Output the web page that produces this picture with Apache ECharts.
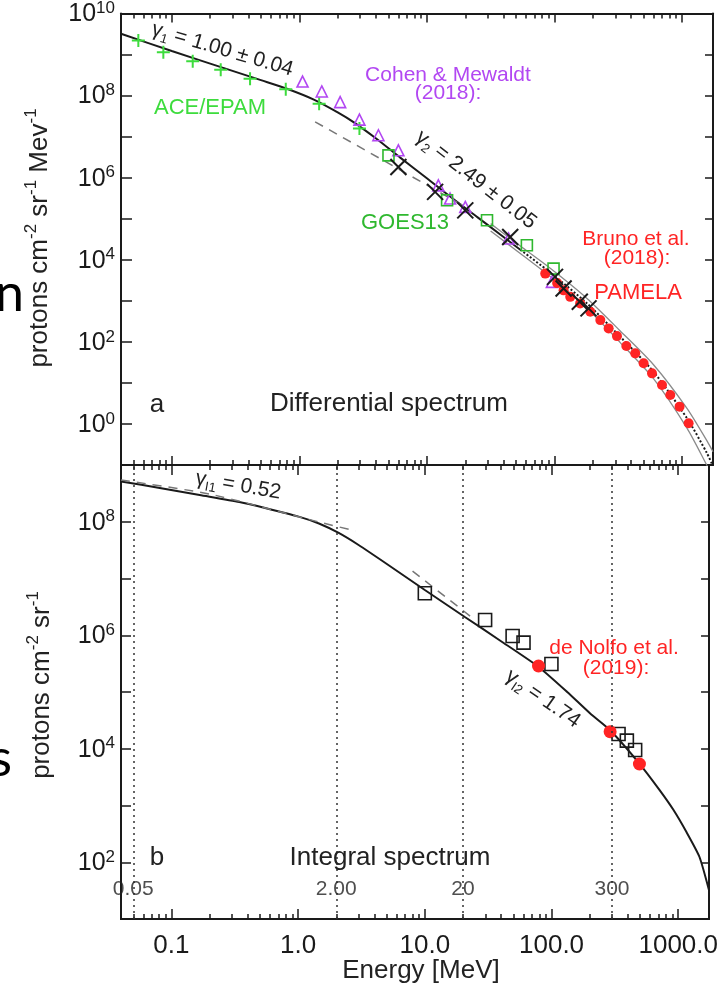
<!DOCTYPE html>
<html><head><meta charset="utf-8">
<script src="https://cdn.jsdelivr.net/npm/echarts@6/dist/echarts.min.js"></script>
<style>html,body{margin:0;padding:0;background:#fff;overflow:hidden}#c{width:721px;height:987px}</style>
</head><body><div id="c"></div>
<script>
// ---------- axis ticks / labels ----------
const X_MIN = 0.04, X_MAX = 1750;
const X_MAJOR = [0.1, 1, 10, 100, 1000];
const X_LABELS = ['0.1', '1.0', '10.0', '100.0', '1000.0'];
const TOP_Y_TICKS = [1e0, 1e1, 1e2, 1e3, 1e4, 1e5, 1e6, 1e7, 1e8, 1e9];
const TOP_Y_LABELS = [1e0, 1e2, 1e4, 1e6, 1e8, 1e10];
const BOT_Y_TICKS = [1e2, 1e3, 1e4, 1e5, 1e6, 1e7, 1e8];
const BOT_Y_LABELS = [1e2, 1e4, 1e6, 1e8];
const CUT_ENERGIES = [0.05, 2, 20, 300];
const CUT_LABELS = ['0.05', '2.00', '20', '300'];

// ---------- panel a: differential spectrum ----------
const E_FIT_A = [0.04, 0.1, 0.25, 0.5, 0.8, 1.3, 2.0, 2.66, 4.0, 6.18, 10, 15.2, 25, 37.6, 54];
const F_FIT_A = [3.2e9, 1.22e9, 4.8e8, 2.38e8, 1.47e8, 8.0e7, 3.9e7, 2.26e7, 9.0e6, 3.08e6, 9.7e5, 3.47e5, 1.08e5, 4.13e4, 1.76e4];
const E_FIT_A_HI = [54, 92.7, 180, 328, 598, 1094, 1570, 1733];
const F_FIT_A_HI = [1.76e4, 4.9e3, 865, 133, 18.7, 1.38, 0.194, 0.1];
const E_BAND = [31.6, 54, 92.7, 180, 328, 598, 1094, 1570, 1750];
const F_BAND_UP = [7.6e4, 2.16e4, 6.2e3, 1.14e3, 184, 27.7, 2.39, 0.386, 0.21];
const F_BAND_LO = [5.0e4, 1.43e4, 3.9e3, 656, 96, 12.7, 0.79, 0.097, 0.05];
const E_PL_A = [1.33, 20];
const F_PL_A = [2.3e7, 1.95e5];

const E_ACE = [0.0547, 0.0859, 0.146, 0.242, 0.411, 0.783, 1.43, 2.96];
const F_ACE = [2.2e9, 1.14e9, 6.9e8, 4.27e8, 2.58e8, 1.42e8, 6.35e7, 1.57e7];
const E_CM = [1.06, 1.50, 2.09, 2.96, 4.17, 5.98, 12.3, 15.2, 20, 43.7, 95.5];
const F_CM = [2.2e8, 1.26e8, 6.95e7, 2.6e7, 1.08e7, 4.65e6, 6.5e5, 3.1e5, 1.94e5, 3.3e4, 2.9e3];
const E_GOES = [5.0, 14.4, 29.6, 60.8, 98.4];
const F_GOES = [3.5e6, 2.82e5, 9.2e4, 2.26e4, 6.1e3];
const E_X = [5.98, 11.6, 20, 45, 101, 118, 158, 185];
const F_X = [1.82e6, 4.5e5, 1.6e5, 3.6e4, 3.84e3, 2.0e3, 946, 653];
const E_PAM = [84.7, 105, 118, 133, 159, 191, 229, 266, 309, 366, 430, 500, 582, 697, 809, 957, 1127];
const F_PAM = [4.6e3, 2.7e3, 1.8e3, 1.25e3, 865, 541, 339, 213, 138, 79, 52.5, 30, 17.1, 8.9, 5.1, 2.64, 1.04];

// ---------- panel b: integral spectrum ----------
const E_FIT_B = [0.04, 0.0809, 0.167, 0.343, 0.559, 1.01, 1.46, 2.09, 3.0, 5.15, 10.0, 20.7, 39.7, 78.7, 133, 201, 289, 497, 713, 918, 1161, 1469, 1750];
const F_FIT_B = [5.12e8, 3.94e8, 2.96e8, 2.23e8, 1.73e8, 1.23e8, 9.31e7, 6.34e7, 3.89e7, 1.73e7, 6.27e6, 2.10e6, 7.93e5, 2.79e5, 1.0e5, 4.22e4, 2.14e4, 5.38e3, 1.87e3, 833, 341, 125, 32];
const E_PL_B1 = [0.04, 0.2, 1.46, 2.84];
const F_PL_B1 = [5.45e8, 3.08e8, 9.9e7, 6.87e7];
const E_PL_B2 = [8, 25];
const F_PL_B2 = [1.35e7, 1.85e6];
const E_SQ = [10, 29.9, 49.3, 60.1, 99.8, 338, 393, 457];
const F_SQ = [5.48e6, 1.86e6, 9.7e5, 7.4e5, 3.11e5, 1.82e4, 1.39e4, 9.5e3];
const E_DN = [78.9, 290, 494];
const F_DN = [2.87e5, 2.0e4, 5.38e3];

// ---------- build ----------
const INK = '#1a1a1a';
const FONT = '"Liberation Sans", Arial, sans-serif';
const zip = (a, b) => a.map((v, i) => [v, b[i]]);
const X_MINOR = [];
for (let d = -2; d <= 3; d++) for (let k = 2; k <= 9; k++) {
  const v = k * Math.pow(10, d);
  if (v >= X_MIN && v <= X_MAX) X_MINOR.push(+v.toPrecision(3));
}

function xAx(grid, pos, vals, len, labels) {
  return {
    type: 'log', logBase: 10, gridIndex: grid, position: pos, min: X_MIN, max: X_MAX,
    axisLine: { show: true, onZero: false, lineStyle: { color: INK, width: 2 } },
    axisTick: { show: true, inside: true, length: len, customValues: vals, lineStyle: { color: INK, width: 1.5 } },
    axisLabel: labels ? {
      show: true, customValues: X_MAJOR, margin: 14, color: INK, fontSize: 26, fontFamily: FONT,
      formatter: v => X_LABELS[Math.round(Math.log10(v)) + 1]
    } : { show: false },
    splitLine: { show: false }, minorTick: { show: false }, minorSplitLine: { show: false }
  };
}
function yAx(grid, pos, min, max, ticks, len, labels) {
  return {
    type: 'log', logBase: 10, gridIndex: grid, position: pos, min: min, max: max,
    axisLine: { show: true, onZero: false, lineStyle: { color: INK, width: 2 } },
    axisTick: { show: true, inside: true, length: len, customValues: ticks, lineStyle: { color: INK, width: 1.5 } },
    axisLabel: labels ? {
      show: true, customValues: labels, margin: 6, color: INK, fontFamily: FONT,
      formatter: v => '{b|10}{s|' + Math.round(Math.log10(v)) + '}',
      rich: {
        b: { fontSize: 25, lineHeight: 27, verticalAlign: 'bottom', fontFamily: FONT, color: INK },
        s: { fontSize: 17, lineHeight: 18, verticalAlign: 'top', fontFamily: FONT, color: INK }
      }
    } : { show: false },
    splitLine: { show: false }, minorTick: { show: false }, minorSplitLine: { show: false }
  };
}

const lineS = (name, data, color, width, type, xi, yi, extra) => Object.assign({
  name, type: 'line', data, xAxisIndex: xi, yAxisIndex: yi, showSymbol: false, symbol: 'none',
  smooth: 0.25, clip: true, lineStyle: { color, width, type }, z: 2
}, extra || {});
const scat = (name, data, symbol, size, fill, stroke, bw, xi, yi, z) => ({
  name, type: 'scatter', data, xAxisIndex: xi, yAxisIndex: yi, symbol, symbolSize: size, clip: false,
  itemStyle: { color: fill, borderColor: stroke, borderWidth: bw, opacity: 1 }, z: z || 3
});

function txt(x, y, text, size, color, rot, extra) {
  return Object.assign({
    type: 'text', x, y, rotation: (rot || 0) * Math.PI / 180, z: 100,
    style: { text, fill: color, font: size + 'px ' + FONT, textAlign: 'center', textVerticalAlign: 'middle' }
  }, extra || {});
}
function gammaTxt(x, y, sub, rest, rot) {
  return {
    type: 'text', x, y, rotation: rot * Math.PI / 180, z: 100,
    style: {
      text: '{g|γ}{s|' + sub + '}{g| ' + rest + '}', textAlign: 'center', textVerticalAlign: 'middle', fill: '#222',
      rich: {
        g: { fontSize: 21, lineHeight: 24, fontFamily: FONT, fill: '#222', verticalAlign: 'top' },
        s: { fontSize: 13, lineHeight: 14, fontFamily: FONT, fill: '#222', verticalAlign: 'bottom' }
      }
    }
  };
}
function ylabTxt(x, y, parts) {
  let t = '';
  parts.forEach(p => { t += '{a|' + p[0] + '}' + (p[1] ? '{s|' + p[1] + '}' : ''); });
  return {
    type: 'text', x, y, rotation: Math.PI / 2, z: 100,
    style: {
      text: t, textAlign: 'center', textVerticalAlign: 'middle', fill: '#222',
      rich: {
        a: { fontSize: 26, lineHeight: 30, fontFamily: FONT, fill: '#222', verticalAlign: 'bottom' },
        s: { fontSize: 17, lineHeight: 18, fontFamily: FONT, fill: '#222', verticalAlign: 'top' }
      }
    }
  };
}

const PURPLE = '#b247f2', RED = '#ff2424', GREEN1 = '#3ddc3d', GREEN2 = '#2fb82f';

const option = {
  animation: false,
  backgroundColor: '#ffffff',
  grid: [
    { left: 121, top: 13, width: 592, height: 452, containLabel: false },
    { left: 121, top: 465, width: 592, height: 454, containLabel: false }
  ],
  xAxis: [
    xAx(0, 'bottom', X_MAJOR, 9, false),
    xAx(0, 'bottom', X_MINOR, 5, false),
    xAx(0, 'top', X_MAJOR, 9, false),
    xAx(0, 'top', X_MINOR, 5, false),
    xAx(1, 'top', X_MAJOR, 10, false),
    xAx(1, 'top', X_MINOR, 5, false),
    xAx(1, 'bottom', X_MAJOR, 10, true),
    xAx(1, 'bottom', X_MINOR, 5, false)
  ],
  yAxis: [
    yAx(0, 'left', 0.1, 1e10, TOP_Y_TICKS, 11, TOP_Y_LABELS),
    yAx(0, 'right', 0.1, 1e10, TOP_Y_TICKS, 8, null),
    yAx(1, 'left', 10, 1e9, BOT_Y_TICKS, 10, BOT_Y_LABELS),
    yAx(1, 'right', 10, 1e9, BOT_Y_TICKS, 8, null)
  ],
  series: [
    // panel a
    lineS('bandUp', zip(E_BAND, F_BAND_UP), '#8a8a8a', 1.3, 'solid', 0, 0),
    lineS('bandLo', zip(E_BAND, F_BAND_LO), '#8a8a8a', 1.3, 'solid', 0, 0),
    lineS('fitA', zip(E_FIT_A, F_FIT_A), INK, 2, 'solid', 0, 0),
    lineS('fitAhi', zip(E_FIT_A_HI, F_FIT_A_HI), INK, 2, [2, 2], 0, 0),
    lineS('plA', zip(E_PL_A, F_PL_A), '#777', 1.5, [9, 7], 0, 0, { smooth: false }),
    scat('ACE/EPAM', zip(E_ACE, F_ACE), 'path://M0,5L10,5M5,0L5,10', 13, 'rgba(0,0,0,0)', GREEN1, 2, 0, 0),
    scat('Cohen & Mewaldt', zip(E_CM, F_CM), 'triangle', 11, 'rgba(255,255,255,0)', PURPLE, 1.6, 0, 0),
    scat('GOES13', zip(E_GOES, F_GOES), 'rect', 11, 'rgba(255,255,255,0)', GREEN2, 1.6, 0, 0),
    scat('PAMELA', zip(E_PAM, F_PAM), 'circle', 10, RED, RED, 0, 0, 0, 4),
    scat('X', zip(E_X, F_X), 'path://M0,0L10,10M10,0L0,10', 16, 'rgba(0,0,0,0)', INK, 2, 0, 0, 5),
    // panel b
    lineS('fitB', zip(E_FIT_B, F_FIT_B), INK, 2, 'solid', 6, 2, {
      smooth: 0.2,
      markLine: {
        silent: true, symbol: ['none', 'none'], label: { show: false },
        lineStyle: { type: [2, 4], color: '#333', width: 1.5 },
        data: CUT_ENERGIES.map(v => ({ xAxis: v }))
      }
    }),
    lineS('plB1', zip(E_PL_B1, F_PL_B1), '#777', 1.5, [9, 7], 6, 2, { smooth: 0.2 }),
    lineS('plB2', zip(E_PL_B2, F_PL_B2), '#777', 1.5, [9, 7], 6, 2, { smooth: false }),
    scat('squares', zip(E_SQ, F_SQ), 'rect', 13, 'rgba(255,255,255,0)', INK, 1.6, 6, 2),
    scat('de Nolfo', zip(E_DN, F_DN), 'circle', 13, RED, RED, 0, 6, 2, 4),
    {
      name: 'cutLabels', type: 'scatter', xAxisIndex: 6, yAxisIndex: 2, symbolSize: 0, z: 6,
      data: CUT_ENERGIES.map(v => [v, 33]),
      label: { show: true, position: 'inside', formatter: p => CUT_LABELS[p.dataIndex], fontSize: 21, fontFamily: FONT, color: '#222' }
    }
  ],
  graphic: [
    txt(24, 294, 'n', 52, '#000', 0, { style: { text: 'n', fill: '#000', font: '52px Lato, "Open Sans", sans-serif', textAlign: 'right', textVerticalAlign: 'middle' } }),
    txt(12, 759, 's', 52, '#000', 0, { style: { text: 's', fill: '#000', font: '52px Lato, "Open Sans", sans-serif', textAlign: 'right', textVerticalAlign: 'middle' } }),
    ylabTxt(38, 238, [['protons cm', '-2'], [' sr', '-1'], [' Mev', '-1']]),
    ylabTxt(40, 685, [['protons cm', '-2'], [' sr', '-1']]),
    txt(421, 971, 'Energy [MeV]', 26, '#222'),
    gammaTxt(222, 51, '1', '= 1.00 ± 0.04', -16.5),
    gammaTxt(475, 181, '2', '= 2.49 ± 0.05', -38),
    gammaTxt(238, 487, 'I1', '= 0.52', -10),
    gammaTxt(542, 700, 'I2', '= 1.74', -35),
    txt(210, 108, 'ACE/EPAM', 22, GREEN1),
    txt(448, 75, 'Cohen & Mewaldt', 21, PURPLE),
    txt(448, 93, '(2018):', 21, PURPLE),
    txt(405, 223, 'GOES13', 22, GREEN2),
    txt(636, 239, 'Bruno et al.', 21, RED),
    txt(637, 258, '(2018):', 21, RED),
    txt(638, 293, 'PAMELA', 22, RED),
    txt(157, 405, 'a', 26, '#222'),
    txt(389, 404, 'Differential spectrum', 26, '#222'),
    txt(157, 858, 'b', 26, '#222'),
    txt(390, 858, 'Integral spectrum', 26, '#222'),
    txt(614, 648, 'de Nolfo et al.', 21, RED),
    txt(616, 668, '(2019):', 21, RED)
  ]
};
const chart = echarts.init(document.getElementById('c'), null, { renderer: 'canvas' });
chart.setOption(option);
</script>
</body></html>
